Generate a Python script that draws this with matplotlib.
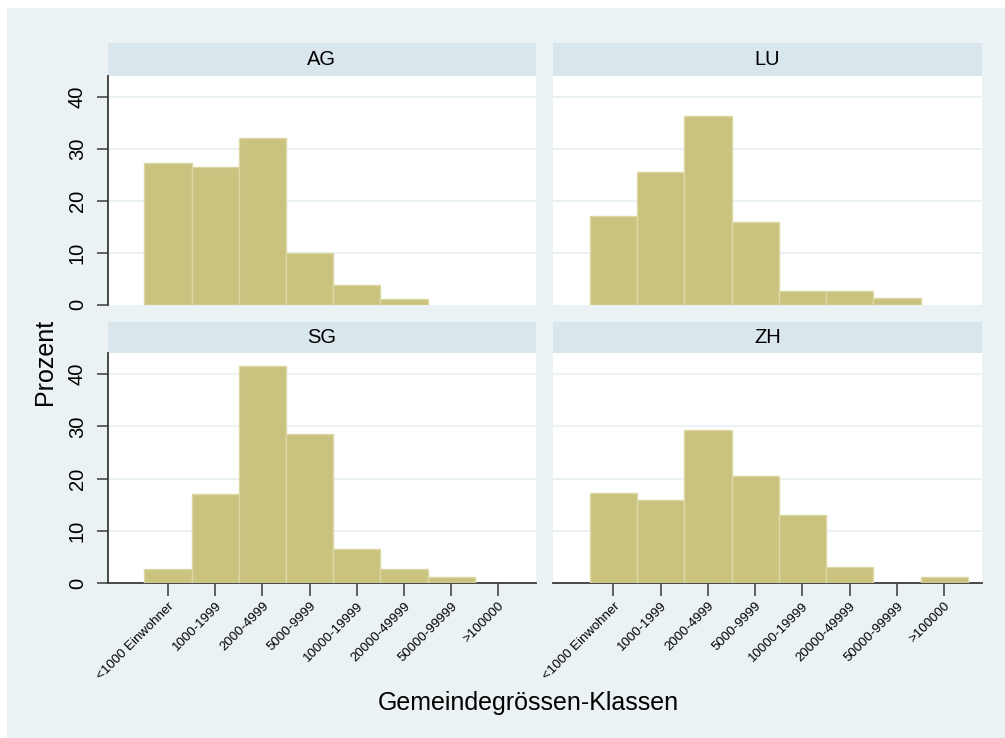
import matplotlib
matplotlib.use('Agg')
from matplotlib import pyplot as plt
from matplotlib.patches import Rectangle

plt.rcParams['font.family'] = ['Liberation Sans', 'DejaVu Sans']

classes = ['<1000 Einwohner', '1000-1999', '2000-4999', '5000-9999',
           '10000-19999', '20000-49999', '50000-99999', '>100000']
positions = [1, 2, 3, 4, 5, 6, 7, 8]
cantons = ['AG', 'LU', 'SG', 'ZH']
ag = [27.3, 26.4, 32.0, 10.0, 3.8, 1.1, 0, 0]
lu = [17.0, 25.4, 36.2, 15.9, 2.6, 2.6, 1.3, 0]
sg = [2.7, 17.0, 41.6, 28.6, 6.5, 2.7, 1.3, 0]
zh = [17.2, 16.0, 29.4, 20.6, 13.0, 3.1, 0, 1.2]
yticks = [0, 10, 20, 30, 40]

bg = '#eaf2f3'
strip_col = '#d9e6eb'
bar_col = '#cac27f'
bar_edge = '#ddd7a3'
axis_col = '#3a3a3a'

W, H = 1005, 738
fig = plt.figure(figsize=(W / 100, H / 100), dpi=100, facecolor='white')
fig.patches.append(Rectangle((7 / W, 0), 1 - 7 / W, 1 - 8 / H, transform=fig.transFigure,
                             facecolor=bg, edgecolor='none', zorder=-10))


def px_axes(x0, y0, x1, y1):
    # pixel box (top-left origin) -> figure axes
    return fig.add_axes([x0 / W, 1 - y1 / H, (x1 - x0) / W, (y1 - y0) / H])


# panel boxes in pixels: (x0, x1), (strip top, plot top, plot bottom)
cols = [(107.7, 536.0), (553.0, 982.0)]
rows = [(43.0, 75.7, 304.5), (321.7, 353.3, 583.3)]
data = [ag, lu, sg, zh]

for i in range(4):
    r, c = divmod(i, 2)
    x0, x1 = cols[c]
    st, pt, pb = rows[r]

    strip = px_axes(x0, st, x1, pt)
    strip.set_facecolor(strip_col)
    strip.set_xticks([])
    strip.set_yticks([])
    for s in strip.spines.values():
        s.set_visible(False)
    strip.text(0.5, 0.5, cantons[i], ha='center', va='center', fontsize=14.5,
               transform=strip.transAxes)

    ax = px_axes(x0, pt, x1, pb)
    ax.set_facecolor('white')
    # empty classes get no bar (no outline either)
    xs = [p for p, v in zip(positions, data[i]) if v > 0]
    vs = [v for v in data[i] if v > 0]
    ax.bar(xs, vs, width=1.0, color=bar_col, edgecolor=bar_edge,
           linewidth=1.0, zorder=3)
    ax.set_xlim(-0.28, 8.8)
    ax.set_ylim(0, 44)
    ax.set_yticks(yticks)
    for y in yticks[1:]:
        ax.axhline(y, color=bg, linewidth=1.5, zorder=1)
    for s in ['top', 'right']:
        ax.spines[s].set_visible(False)

    if c == 0:
        ax.spines['left'].set_color(axis_col)
        ax.spines['left'].set_linewidth(1.3)
        ax.tick_params(axis='y', length=8, width=1.1, color=axis_col, pad=7,
                       labelsize=14.5)
        for lab in ax.get_yticklabels():
            lab.set_rotation(90)
            lab.set_va('center')
    else:
        ax.spines['left'].set_visible(False)
        ax.tick_params(axis='y', length=0, labelleft=False)

    if r == 1:
        ax.spines['bottom'].set_color(axis_col)
        ax.spines['bottom'].set_linewidth(1.3)
        ax.set_xticks(positions)
        ax.set_xticklabels(classes, rotation=45, ha='right', va='top',
                           rotation_mode='anchor', fontsize=9.5)
        ax.tick_params(axis='x', length=9, width=1.1, color=axis_col, pad=3)
    else:
        ax.spines['bottom'].set_visible(False)
        ax.set_xticks([])

fig.text(45 / W, 1 - 362 / H, 'Prozent', rotation=90, ha='center', va='center',
         fontsize=18)
fig.text(528 / W, 1 - 703 / H, 'Gemeindegrössen-Klassen', ha='center', va='center',
         fontsize=18)

fig.savefig('out.png', dpi=100, facecolor='white')
